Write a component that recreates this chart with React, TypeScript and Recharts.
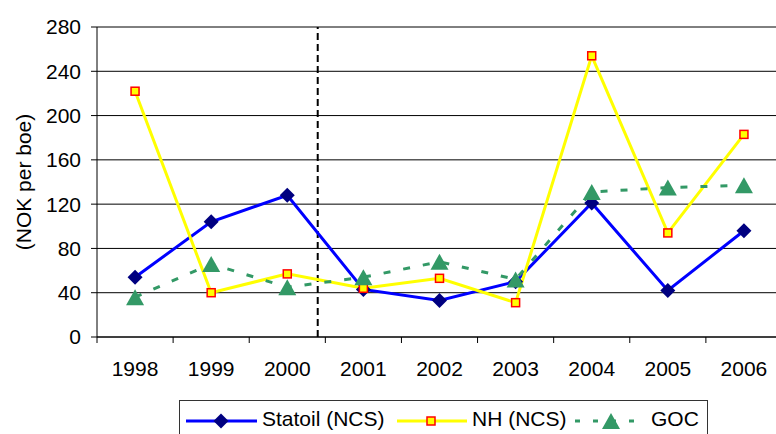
import React from 'react'
import {
  LineChart, Line, XAxis, YAxis, CartesianGrid, ReferenceLine, Legend,
} from 'recharts'

const years = ['1998', '1999', '2000', '2001', '2002', '2003', '2004', '2005', '2006']
const statoil = [54, 104, 128, 43, 33, 50, 121, 42, 96]
const nh = [222, 40, 57, 44, 53, 31, 254, 94, 183]
const goc = [36, 66, 45, 54, 68, 52, 131, 135, 137]
const yTicks = [0, 40, 80, 120, 160, 200, 240, 280]
const bandTicks = [0, 1, 2, 3, 4, 5, 6, 7, 8, 9]

const data = years.map((year, i) => ({
  year,
  pos: i + 0.5,
  statoil: statoil[i],
  nh: nh[i],
  goc: goc[i],
}))

const FONT = '"Liberation Sans", Arial, sans-serif'

const Diamond = (props: any) => {
  const { cx, cy, index } = props
  if (cx == null || cy == null) return <g key={`d${index}`} />
  const r = 7.5
  return (
    <path
      key={`d${index}`}
      d={`M${cx},${cy - r} L${cx + r},${cy} L${cx},${cy + r} L${cx - r},${cy} Z`}
      fill="#000080"
    />
  )
}

const Square = (props: any) => {
  const { cx, cy, index } = props
  if (cx == null || cy == null) return <g key={`s${index}`} />
  return (
    <rect key={`s${index}`} x={cx - 4} y={cy - 4} width={8} height={8}
      fill="#FFFF00" stroke="#FF0000" strokeWidth={1.5} />
  )
}

const Triangle = (props: any) => {
  const { cx, cy, index } = props
  if (cx == null || cy == null) return <g key={`t${index}`} />
  return (
    <path key={`t${index}`}
      d={`M${cx},${cy - 8} L${cx + 9},${cy + 8} L${cx - 9},${cy + 8} Z`}
      fill="#339966" />
  )
}

// tick marks only, no text
const BlankTick = () => <g />

const renderLegend = () => (
  <div style={{ width: 529, height: 40, border: '1px solid #333', boxSizing: 'border-box', background: '#fff' }}>
    <svg width={527} height={38} style={{ display: 'block', fontFamily: FONT }}>
      {/* Statoil */}
      <line x1={6} x2={77} y1={20} y2={20} stroke="#0000FF" strokeWidth={3} />
      <path d="M41,12.5 L48.5,20 L41,27.5 L33.5,20 Z" fill="#000080" />
      <text x={82} y={25} fontSize={21} fill="#000">Statoil (NCS)</text>
      {/* NH */}
      <line x1={217} x2={287} y1={20} y2={20} stroke="#FFFF00" strokeWidth={3} />
      <rect x={247} y={16} width={8} height={8} fill="#FFFF00" stroke="#FF0000" strokeWidth={1.5} />
      <text x={292} y={25} fontSize={21} fill="#000">NH (NCS)</text>
      {/* GOC */}
      <line x1={395} x2={463} y1={20} y2={20} stroke="#339966" strokeWidth={3} strokeDasharray="5 13" />
      <path d="M431,12 L440,28 L422,28 Z" fill="#339966" />
      <text x={471} y={25} fontSize={21} fill="#000">GOC</text>
    </svg>
  </div>
)

export default function App() {
  return (
    <div style={{ position: 'absolute', left: 0, top: 0, width: 776, height: 434, overflow: 'hidden', background: '#fff' }}>
      <LineChart
        width={782}
        height={434}
        data={data}
        margin={{ top: 27, right: 0, bottom: 51, left: 0 }}
        style={{ fontFamily: FONT }}
      >
        <CartesianGrid xAxisId="cat" vertical={false} stroke="#000" strokeWidth={1} />
        <XAxis
          xAxisId="axis"
          dataKey="pos"
          type="number"
          domain={[0, 9]}
          allowDataOverflow
          ticks={bandTicks}
          interval={0}
          height={6}
          tickSize={6}
          tick={BlankTick}
          axisLine={{ stroke: '#000' }}
          tickLine={{ stroke: '#000' }}
        />
        <XAxis
          xAxisId="cat"
          dataKey="year"
          scale="band"
          height={40}
          interval={0}
          axisLine={false}
          tickLine={false}
          tickSize={0}
          tickMargin={18}
          tick={{ fontSize: 21, fill: '#000' }}
        />
        <YAxis
          width={97}
          domain={[0, 280]}
          ticks={yTicks}
          tickSize={6}
          tickMargin={10}
          axisLine={{ stroke: '#000' }}
          tickLine={{ stroke: '#000' }}
          tick={{ fontSize: 21, fill: '#000' }}
          label={{ value: '(NOK per boe)', angle: -90, position: 'insideLeft', offset: 24, fontSize: 21, fill: '#000', style: { textAnchor: 'middle' } }}
        />
        <ReferenceLine xAxisId="axis" x={2.9} stroke="#000" strokeWidth={2} strokeDasharray="7 4" />
        <Line xAxisId="cat" dataKey="statoil" stroke="#0000FF" strokeWidth={3} dot={Diamond} activeDot={false} isAnimationActive={false} />
        <Line xAxisId="cat" dataKey="nh" stroke="#FFFF00" strokeWidth={3} dot={Square} activeDot={false} isAnimationActive={false} />
        <Line xAxisId="cat" dataKey="goc" stroke="#339966" strokeWidth={3} strokeDasharray="7 13" dot={Triangle} activeDot={false} isAnimationActive={false} />
        <Legend
          layout="vertical"
          verticalAlign="middle"
          align="center"
          content={renderLegend}
          wrapperStyle={{ position: 'absolute', left: 179, top: 400, width: 529, height: 40 }}
        />
      </LineChart>
    </div>
  )
}
